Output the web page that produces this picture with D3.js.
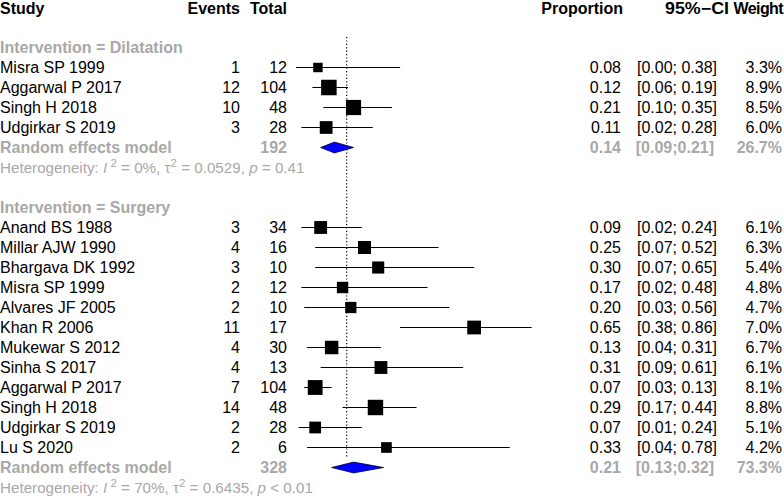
<!DOCTYPE html>
<html>
<head>
<meta charset="utf-8">
<script src="https://cdn.jsdelivr.net/npm/d3@7"></script>
<style>
html,body{margin:0;padding:0;background:#fff;}
svg{display:block;font-family:"Liberation Sans",Arial,Helvetica,sans-serif;}
</style>
</head>
<body>
<svg id="chart" width="784" height="497"></svg>
<script>
// ---------- data ----------
const headers = ["Study","Events","Total","Proportion","95%\u2212CI","Weight"];

const dilStudies = ["Misra SP 1999","Aggarwal P 2017","Singh H 2018","Udgirkar S 2019"];
const dilEvents  = [1,12,10,3];
const dilTotal   = [12,104,48,28];
const dilProp    = [0.08,0.12,0.21,0.11];
const dilLower   = [0.00,0.06,0.10,0.02];
const dilUpper   = [0.38,0.19,0.35,0.28];
const dilWeight  = [3.3,8.9,8.5,6.0];

const surStudies = ["Anand BS 1988","Millar AJW 1990","Bhargava DK 1992","Misra SP 1999","Alvares JF 2005","Khan R 2006","Mukewar S 2012","Sinha S 2017","Aggarwal P 2017","Singh H 2018","Udgirkar S 2019","Lu S 2020"];
const surEvents  = [3,4,3,2,2,11,4,4,7,14,2,2];
const surTotal   = [34,16,10,12,10,17,30,13,104,48,28,6];
const surProp    = [0.09,0.25,0.30,0.17,0.20,0.65,0.13,0.31,0.07,0.29,0.07,0.33];
const surLower   = [0.02,0.07,0.07,0.02,0.03,0.38,0.04,0.09,0.03,0.17,0.01,0.04];
const surUpper   = [0.24,0.52,0.65,0.48,0.56,0.86,0.31,0.61,0.13,0.44,0.24,0.78];
const surWeight  = [6.1,6.3,5.4,4.8,4.7,7.0,6.7,6.1,8.1,8.8,5.1,4.2];

const groupLabels   = ["Intervention = Dilatation","Intervention = Surgery"];
const pooledTotal   = [192,328];
const pooledProp    = [0.14,0.21];
const pooledLower   = [0.09,0.13];
const pooledUpper   = [0.21,0.32];
const pooledWeight  = [26.7,73.3];
const hetI2   = ["0%","70%"];
const hetTau2 = ["0.0529","0.6435"];
const hetP    = ["= 0.41","< 0.01"];
const refValue = 0.185;

// ---------- layout ----------
const svg = d3.select("#chart");
const x = d3.scaleLinear().domain([0,1]).range([296,570]);
const rowY = i => 7 + 20*i;
const FS = 16;
const GRAY = "#a8a8a8";
const fmt2 = d3.format(".2f");
const fmt1 = d3.format(".1f");
const boxSide = w => 5.2*Math.sqrt(w);

const col = {study:0, events:240, total:287, prop:621, ci:717, ciHead:729, weight:783};

function txt(xp, i, s, opts={}) {
  const t = svg.append("text")
    .attr("x", xp).attr("y", rowY(i) + 5.8 + (opts.dy || 0))
    .attr("text-anchor", opts.anchor || "start")
    .attr("font-size", opts.size || FS)
    .attr("font-weight", opts.bold ? "bold" : "normal")
    .attr("fill", opts.color || "#000")
    .text(s);
  if (opts.len) t.attr("textLength", opts.len).attr("lengthAdjust","spacingAndGlyphs");
  if (opts.ls) t.attr("letter-spacing", opts.ls);
  return t;
}

// header
txt(col.study,0,headers[0],{bold:true,dy:0.8});
txt(col.events,0,headers[1],{bold:true,anchor:"end",dy:0.8});
txt(col.total,0,headers[2],{bold:true,anchor:"end",dy:0.8});
txt(col.prop+2,0,headers[3],{bold:true,anchor:"end",dy:0.8});
txt(col.ciHead,0,headers[4],{bold:true,anchor:"end",len:64,dy:0.8});
txt(col.weight,0,headers[5],{bold:true,anchor:"end",ls:-0.6,dy:0.8});

const groups = [
  {start:2, studies:dilStudies, ev:dilEvents, tot:dilTotal, p:dilProp, lo:dilLower, hi:dilUpper, w:dilWeight},
  {start:10, studies:surStudies, ev:surEvents, tot:surTotal, p:surProp, lo:surLower, hi:surUpper, w:surWeight}
];

// reference line
const lastRow = groups[1].start + groups[1].studies.length;
svg.append("line")
  .attr("x1", x(refValue)).attr("x2", x(refValue))
  .attr("y1", rowY(2)-10).attr("y2", rowY(lastRow)+11)
  .attr("stroke","#000").attr("stroke-width",1.2)
  .attr("stroke-dasharray","1.2,2.2");

groups.forEach((g, gi) => {
  txt(col.study, g.start, groupLabels[gi], {bold:true, color:GRAY});
  g.studies.forEach((s, k) => {
    const i = g.start + 1 + k;
    const y = rowY(i);
    txt(col.study, i, s);
    txt(col.events, i, g.ev[k], {anchor:"end"});
    txt(col.total, i, g.tot[k], {anchor:"end"});
    txt(col.prop, i, fmt2(g.p[k]), {anchor:"end"});
    txt(col.ci, i, "[" + fmt2(g.lo[k]) + "; " + fmt2(g.hi[k]) + "]", {anchor:"end"});
    txt(col.weight-1, i, fmt1(g.w[k]) + "%", {anchor:"end"});
    svg.append("line")
      .attr("x1", x(g.lo[k])).attr("x2", x(g.hi[k]))
      .attr("y1", y+0.5).attr("y2", y+0.5)
      .attr("stroke","#000").attr("stroke-width",1);
    const b = boxSide(g.w[k]);
    svg.append("rect")
      .attr("x", x(g.p[k]) - b/2).attr("y", y + 0.5 - b/2)
      .attr("width", b).attr("height", b)
      .attr("fill","#000");
  });
  // pooled row
  const pi = g.start + g.studies.length + 1;
  const py = rowY(pi) + 0.5;
  txt(col.study, pi, "Random effects model", {bold:true, color:GRAY});
  txt(col.total, pi, pooledTotal[gi], {bold:true, color:GRAY, anchor:"end"});
  txt(col.prop, pi, fmt2(pooledProp[gi]), {bold:true, color:GRAY, anchor:"end"});
  txt(col.ci-3, pi, "[" + fmt2(pooledLower[gi]) + ";" + fmt2(pooledUpper[gi]) + "]", {bold:true, color:GRAY, anchor:"end"});
  txt(col.weight-1, pi, fmt1(pooledWeight[gi]) + "%", {bold:true, color:GRAY, anchor:"end"});
  const dh = 5.4;
  const pts = [[x(pooledLower[gi]),py],[x(pooledProp[gi]),py-dh],[x(pooledUpper[gi]),py],[x(pooledProp[gi]),py+dh]];
  svg.append("path")
    .attr("d", d3.line()(pts) + "Z")
    .attr("fill","#0000ff").attr("stroke","#000040").attr("stroke-width",0.8);
  // heterogeneity
  const hi = pi + 1;
  const t = svg.append("text")
    .attr("x", col.study).attr("y", rowY(hi) + 5.5)
    .attr("font-size", 15.2).attr("fill", GRAY);
  t.append("tspan").text("Heterogeneity: ");
  t.append("tspan").attr("font-style","italic").text("I");
  t.append("tspan").attr("dy",-6).attr("font-size",11.5).text(" 2");
  t.append("tspan").attr("dy",6).text(" = " + hetI2[gi] + ", ");
  t.append("tspan").text("\u03c4");
  t.append("tspan").attr("dy",-6).attr("font-size",11.5).text("2");
  t.append("tspan").attr("dy",6).text(" = " + hetTau2[gi] + ", ");
  t.append("tspan").attr("font-style","italic").text("p");
  t.append("tspan").text(" " + hetP[gi]);
});
</script>
</body>
</html>
